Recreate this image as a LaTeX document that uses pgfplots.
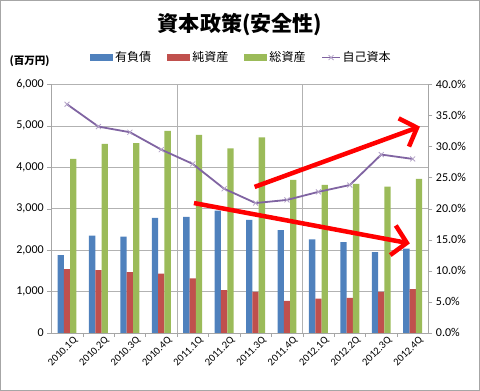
\documentclass[border=0pt]{standalone}
\usepackage{fontspec}
\setmainfont{Carlito}
\newfontfamily\cjk{Noto Sans CJK JP}
\usepackage{pgfplots}
\pgfplotsset{compat=1.18}
\usepackage{pgfplotstable}
\usetikzlibrary{arrows.meta}
\definecolor{cblue}{HTML}{4F81BD}
\definecolor{cred}{HTML}{C0504D}
\definecolor{cgreen}{HTML}{9BBB59}
\definecolor{cpurple}{HTML}{8064A2}
\pgfplotstableread{
idx blue red green eq
0 1880 1541 4203 36.8
1 2347 1517 4565 33.2
2 2323 1468 4581 32.3
3 2775 1428 4880 29.5
4 2800 1315 4783 27.2
5 2952 1033 4452 23.2
6 2726 992 4718 20.9
7 2484 774 3694 21.4
8 2258 830 3573 22.7
9 2194 847 3597 23.8
10 1952 992 3533 28.7
11 2032 1057 3719 28.0
}\data
\begin{document}
\begin{tikzpicture}
\draw[gray!70, line width=1pt] (-50.7pt,-57.3pt) rectangle (427.3pt,331.7pt);
\node[font=\cjk\bfseries\fontsize{21}{24}\selectfont] at (188.3pt,307.7pt) {資本政策(安全性)};
\node[font=\cjk\bfseries\fontsize{10.5}{12}\selectfont] at (-21.7pt,270.7pt) {(百万円)};
\begin{axis}[
  scale only axis, width=376.3pt, height=248pt,
  xmin=-0.5, xmax=11.5, ymin=0, ymax=6000,
  ybar=0pt, bar width=6.3pt,
  xtick={0,...,11},
  xticklabels={2010.1Q,2010.2Q,2010.3Q,2010.4Q,2011.1Q,2011.2Q,2011.3Q,2011.4Q,2012.1Q,2012.2Q,2012.3Q,2012.4Q},
  xticklabel style={rotate=45, anchor=north east, font=\fontsize{10.5}{12}\selectfont, inner sep=0pt, xshift=5pt, yshift=-3pt},
  major x tick style={draw=none},
  minor x tick num=1, minor tick length=4pt,
  ytick={0,1000,...,6000},
  yticklabel style={font=\fontsize{12}{14}\selectfont},
  /pgf/number format/1000 sep={,},
  /pgf/number format/assume math mode=true,
  ymajorgrids, major grid style={gray!60},
  axis line style={gray!70}, tick style={gray!70},
  major tick length=4pt,
  tick align=outside,
  axis y line*=left, axis x line*=bottom,
  extra x ticks={3.5,7.5}, extra x tick labels={},
  extra x tick style={grid=major, major tick length=0pt},
  legend style={draw=none, fill=none, at={(0.504,1.108)}, anchor=center,
    font=\cjk\fontsize{12}{14}\selectfont, legend columns=4,
    /tikz/every even column/.append style={column sep=14pt},
    inner sep=0pt},
  legend cell align=left,
  legend image code/.code={\fill[#1] (0pt,-3.5pt) rectangle (23pt,3.5pt);},
]
\addplot[fill=cblue, draw=none] table[x=idx,y=blue]{\data};
\addlegendentry{有負債}
\addplot[fill=cred, draw=none] table[x=idx,y=red]{\data};
\addlegendentry{純資産}
\addplot[fill=cgreen, draw=none] table[x=idx,y=green]{\data};
\addlegendentry{総資産}
\addlegendimage{line legend, sharp plot, color=cpurple, line width=1.8pt, mark=x, mark size=3.5pt, mark options={line width=0.8pt, color=cpurple!60}}
\addlegendentry{自己資本}
\end{axis}
\begin{axis}[
  scale only axis, width=376.3pt, height=248pt,
  xmin=-0.5, xmax=11.5, ymin=0, ymax=40,
  axis y line*=right, axis x line=none,
  ytick={0,5,...,40},
  yticklabel={\pgfmathprintnumber[fixed,fixed zerofill,precision=1]{\tick}\%},
  yticklabel style={font=\fontsize{12}{14}\selectfont},
  /pgf/number format/assume math mode=true,
  axis line style={gray!70}, tick style={gray!70},
  major tick length=4pt, tick align=outside,
]
\addplot[color=cpurple, line width=1.8pt, mark=x, mark size=3.5pt,
  mark options={line width=0.8pt, color=cpurple!60}] table[x=idx,y=eq]{\data};
\draw[red, line width=4.5pt, -{Straight Barb[length=14pt 0, width=30pt 0]}] (axis cs:5.97,23.5) -- (axis cs:11.23,33.2);
\draw[red, line width=4.5pt, -{Straight Barb[length=14pt 0, width=30pt 0]}] (axis cs:4.04,20.9) -- (axis cs:10.91,14.4);
\end{axis}
\end{tikzpicture}
\end{document}
